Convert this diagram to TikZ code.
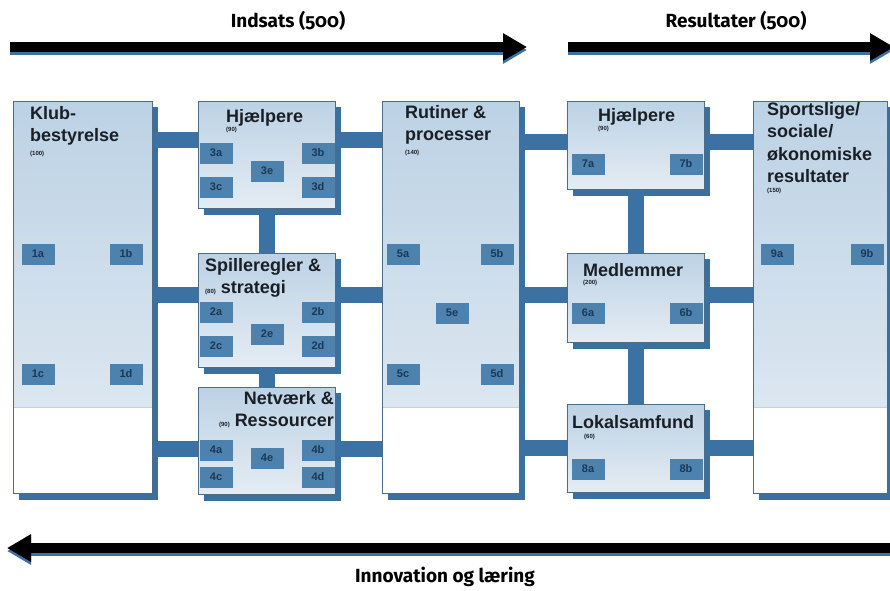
\documentclass[tikz,border=0pt]{standalone}
\usepackage{fontspec}
\setmainfont{Fira Sans}[Numbers=OldStyle]
\newfontfamily\boksfont{Liberation Sans}
\usetikzlibrary{positioning,arrows.meta,backgrounds}

\definecolor{bjaelkeblaa}{HTML}{3B72A3}
\definecolor{skygge}{HTML}{3A6F9E}
\definecolor{kant}{HTML}{4F6C86}
\definecolor{boxtop}{HTML}{BCD2E5}
\definecolor{boxbund}{HTML}{E4ECF3}
\definecolor{tagblaa}{HTML}{4D82AF}
\definecolor{tagtekst}{HTML}{1D3853}
\definecolor{boxtekst}{HTML}{1A1F26}

\begin{document}
\begin{tikzpicture}[
    x=1pt, y=-1pt,
    blok/.style={rectangle, draw=kant, line width=0.8pt, top color=boxtop, bottom color=boxbund, anchor=north west, inner sep=0pt},
    hoej/.style={path picture={\fill[white] (path picture bounding box.south west) rectangle ([yshift=86pt]path picture bounding box.south east); \draw[boxtop, line width=0.6pt] ([yshift=86pt]path picture bounding box.south west) -- ([yshift=86pt]path picture bounding box.south east);}},
    skyggefelt/.style={fill=skygge},
    titel/.style={font=\boksfont\bfseries\fontsize{18}{22.5}\selectfont, text=boxtekst, align=left, anchor=north west, inner sep=0pt},
    antal/.style={font=\boksfont\bfseries\fontsize{6}{7}\selectfont, text=boxtekst, anchor=north west, inner sep=0pt},
    tag/.style={rectangle, fill=tagblaa, minimum width=33pt, minimum height=21pt, inner sep=0pt, font=\boksfont\bfseries\fontsize{11}{12}\selectfont, text=tagtekst},
    bjaelke/.style={draw=bjaelkeblaa, line width=16pt},
    pil/.style={line width=10pt, draw=black, fill=black, -{Triangle[length=24pt, width=26pt]}},
    pilskygge/.style={line width=10pt, draw=bjaelkeblaa, fill=bjaelkeblaa, -{Triangle[length=24pt, width=26pt]}},
    overskrift/.style={font=\bfseries\fontsize{19}{22}\selectfont, text=black}
]
    \useasboundingbox (0,0) rectangle (890,590);

    % ends of the three arrows
    \coordinate (ind1) at (10,47);
    \coordinate (ind2) at (527,47);
    \coordinate (res1) at (568,47);
    \coordinate (res2) at (894,47);
    \coordinate (inn1) at (892,548);
    \coordinate (inn2) at (7,548);

    \node[overskrift] (indsats) at (288,21) {Indsats (500)};
    \node[overskrift] (resultater) at (736,21) {Resultater (500)};
    \node[overskrift] (innovation) at (445,577) {Innovation og læring};

    \draw[pilskygge] ([yshift=-3pt]ind1) -- ([yshift=-3pt]ind2);
    \draw[pil] (ind1) -- (ind2);
    \draw[pilskygge] ([yshift=-3pt]res1) -- ([yshift=-3pt]res2);
    \draw[pil] (res1) -- (res2);
    \draw[pilskygge] ([yshift=-3pt]inn1) -- ([yshift=-3pt]inn2);
    \draw[pil] (inn1) -- (inn2);

    % boxes
    \node[blok, hoej, minimum width=139pt, minimum height=392pt] (klub) at (13,101) {};
    \node[blok, minimum width=137pt, minimum height=107pt] (hj3) at (198,101) {};
    \node[blok, minimum width=137pt, minimum height=114pt] (spil) at (198,253) {};
    \node[blok, minimum width=137pt, minimum height=107pt] (net) at (198,387) {};
    \node[blok, hoej, minimum width=137pt, minimum height=392pt] (rut) at (382,101) {};
    \node[blok, minimum width=137pt, minimum height=88pt] (hj7) at (567,101) {};
    \node[blok, minimum width=137pt, minimum height=89pt] (med) at (567,253) {};
    \node[blok, minimum width=137pt, minimum height=88pt] (lok) at (567,404) {};
    \node[blok, hoej, minimum width=134pt, minimum height=392pt] (sport) at (753,101) {};

    % shadows behind the boxes
    \begin{scope}[on background layer]
        \fill[skyggefelt] ([xshift=6pt,yshift=-6pt]klub.north west) rectangle ([xshift=5pt,yshift=-6pt]klub.south east);
        \fill[skyggefelt] ([xshift=6pt,yshift=-6pt]hj3.north west) rectangle ([xshift=5pt,yshift=-6pt]hj3.south east);
        \fill[skyggefelt] ([xshift=6pt,yshift=-6pt]spil.north west) rectangle ([xshift=5pt,yshift=-6pt]spil.south east);
        \fill[skyggefelt] ([xshift=6pt,yshift=-6pt]net.north west) rectangle ([xshift=5pt,yshift=-6pt]net.south east);
        \fill[skyggefelt] ([xshift=6pt,yshift=-6pt]rut.north west) rectangle ([xshift=5pt,yshift=-6pt]rut.south east);
        \fill[skyggefelt] ([xshift=6pt,yshift=-6pt]hj7.north west) rectangle ([xshift=5pt,yshift=-6pt]hj7.south east);
        \fill[skyggefelt] ([xshift=6pt,yshift=-6pt]med.north west) rectangle ([xshift=5pt,yshift=-6pt]med.south east);
        \fill[skyggefelt] ([xshift=6pt,yshift=-6pt]lok.north west) rectangle ([xshift=5pt,yshift=-6pt]lok.south east);
        \fill[skyggefelt] ([xshift=6pt,yshift=-6pt]sport.north west) rectangle ([xshift=5pt,yshift=-6pt]sport.south east);
    \end{scope}

    % connecting bars
    \draw[bjaelke] (klub.east |- 0,140) -- (hj3.west |- 0,140);
    \draw[bjaelke] (klub.east |- 0,295) -- (spil.west |- 0,295);
    \draw[bjaelke] (klub.east |- 0,449) -- (net.west |- 0,449);
    \draw[bjaelke] (hj3.east |- 0,140) -- (rut.west |- 0,140);
    \draw[bjaelke] (spil.east |- 0,295) -- (rut.west |- 0,295);
    \draw[bjaelke] (net.east |- 0,449) -- (rut.west |- 0,449);
    \draw[bjaelke] (hj3.south) -- (spil.north);
    \draw[bjaelke] (spil.south) -- (net.north);
    \draw[bjaelke] (rut.east |- 0,142) -- (hj7.west |- 0,142);
    \draw[bjaelke] (rut.east |- 0,295) -- (med.west |- 0,295);
    \draw[bjaelke] (rut.east |- 0,448) -- (lok.west |- 0,448);
    \draw[bjaelke] (hj7.east |- 0,142) -- (sport.west |- 0,142);
    \draw[bjaelke] (med.east |- 0,295) -- (sport.west |- 0,295);
    \draw[bjaelke] (lok.east |- 0,448) -- (sport.west |- 0,448);
    \draw[bjaelke] (hj7.south) -- (med.north);
    \draw[bjaelke] (med.south) -- (lok.north);

    % box titles
    \node[titel] (klubtxt) at (30,106) {Klub-\\bestyrelse};
    \node[antal] (klubantal) at ([yshift=-5pt]klubtxt.south west) {(100)};
    \node[titel] (hj3txt) at (226,109) {Hjælpere};
    \node[antal] (hj3antal) at ([yshift=-1pt]hj3txt.south west) {(90)};
    \node[titel] (spiltxt) at (205,258) {Spilleregler \&\\\fontsize{6}{7}\selectfont(80)\fontsize{18}{22.5}\selectfont{} strategi};
    \node[titel, anchor=north east, align=right] (nettxt) at (334,391) {Netværk \&\\\fontsize{6}{7}\selectfont(90)\fontsize{18}{22.5}\selectfont{} Ressourcer};
    \node[titel] (ruttxt) at (405,105) {Rutiner \&\\processer};
    \node[antal] (rutantal) at ([yshift=-5pt]ruttxt.south west) {(140)};
    \node[titel] (hj7txt) at (598,108) {Hjælpere};
    \node[antal] (hj7antal) at ([yshift=-1pt]hj7txt.south west) {(90)};
    \node[titel] (medtxt) at (583,263) {Medlemmer};
    \node[antal] (medantal) at ([yshift=-3pt]medtxt.south west) {(200)};
    \node[titel] (loktxt) at (572,415) {Lokalsamfund};
    \node[antal] (lokantal) at ([xshift=12pt,yshift=-5pt]loktxt.south west) {(60)};
    \node[titel] (sporttxt) at (767,102) {Sportslige/\\sociale/\\økonomiske\\resultater};
    \node[antal] (sportantal) at ([yshift=-5pt]sporttxt.south west) {(150)};

    % small tags
    \node[tag] (t1a) at (38,254) {1a};
    \node[tag] (t1b) at (126,254) {1b};
    \node[tag] (t1c) at (38,374) {1c};
    \node[tag] (t1d) at (126,374) {1d};
    \node[tag] (t3a) at (216,153) {3a};
    \node[tag] (t3b) at (318,153) {3b};
    \node[tag] (t3c) at (216,187) {3c};
    \node[tag] (t3d) at (318,187) {3d};
    \node[tag] (t3e) at (267,171) {3e};
    \node[tag] (t2a) at (216,312) {2a};
    \node[tag] (t2b) at (318,312) {2b};
    \node[tag] (t2c) at (216,346) {2c};
    \node[tag] (t2d) at (318,346) {2d};
    \node[tag] (t2e) at (267,334) {2e};
    \node[tag] (t4a) at (216,450) {4a};
    \node[tag] (t4b) at (318,450) {4b};
    \node[tag] (t4c) at (216,477) {4c};
    \node[tag] (t4d) at (318,477) {4d};
    \node[tag] (t4e) at (267,458) {4e};
    \node[tag] (t5a) at (403,254) {5a};
    \node[tag] (t5b) at (497,254) {5b};
    \node[tag] (t5e) at (452,313) {5e};
    \node[tag] (t5c) at (403,374) {5c};
    \node[tag] (t5d) at (497,374) {5d};
    \node[tag] (t7a) at (588,164) {7a};
    \node[tag] (t7b) at (686,164) {7b};
    \node[tag] (t6a) at (588,313) {6a};
    \node[tag] (t6b) at (686,313) {6b};
    \node[tag] (t8a) at (588,469) {8a};
    \node[tag] (t8b) at (686,469) {8b};
    \node[tag] (t9a) at (777,254) {9a};
    \node[tag] (t9b) at (867,254) {9b};
\end{tikzpicture}
\end{document}
